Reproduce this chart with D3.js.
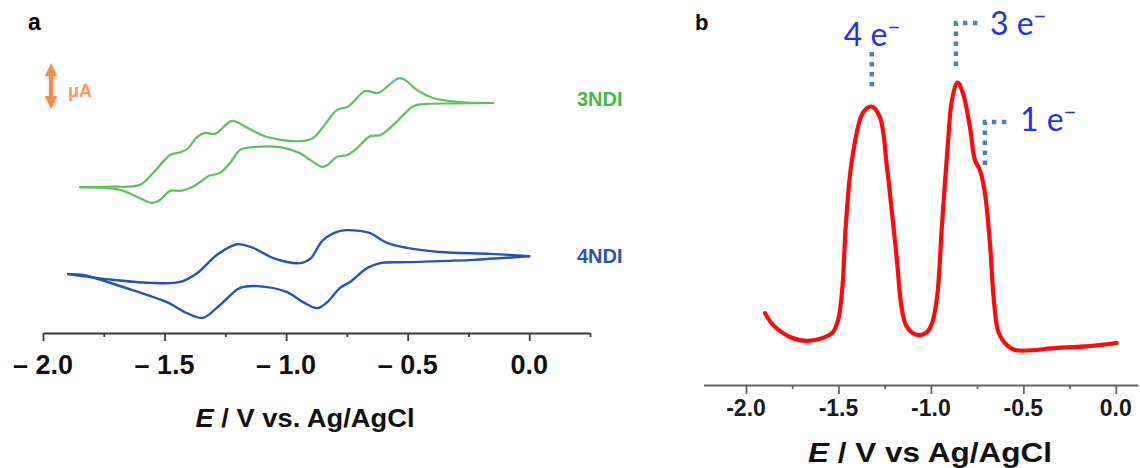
<!DOCTYPE html>
<html>
<head>
<meta charset="utf-8">
<script src="https://cdn.jsdelivr.net/npm/d3@7"></script>
<style>
  html, body { margin: 0; padding: 0; background: #fff; }
  svg { display: block; }
</style>
</head>
<body>
<svg id="fig" width="1140" height="468"></svg>
<script>
// ---------- Panel a: cyclic voltammograms (E in V, current in µA, curves stacked) ----------
const ndi3Forward = [
  [-1.848, 3.17], [-1.72, 3.18], [-1.601, 3.22], [-1.547, 3.48], [-1.477, 3.87],
  [-1.436, 3.93], [-1.407, 4.00], [-1.366, 4.26], [-1.333, 4.35], [-1.292, 4.33],
  [-1.222, 4.61], [-1.160, 4.46], [-1.078, 4.26], [-0.942, 4.17], [-0.889, 4.24],
  [-0.848, 4.48], [-0.790, 4.85], [-0.749, 4.91], [-0.724, 5.02], [-0.675, 5.26],
  [-0.621, 5.22], [-0.531, 5.54], [-0.461, 5.28], [-0.395, 5.11], [-0.284, 5.02],
  [-0.148, 5.00]
];
const ndi3Reverse = [
  [-0.148, 5.00], [-0.300, 4.99], [-0.420, 4.98], [-0.477, 4.93], [-0.510, 4.78],
  [-0.560, 4.52], [-0.613, 4.30], [-0.654, 4.28], [-0.708, 4.02], [-0.749, 3.87],
  [-0.790, 3.83], [-0.831, 3.65], [-0.852, 3.61], [-0.889, 3.72], [-0.942, 3.91],
  [-1.025, 4.04], [-1.136, 4.04], [-1.189, 3.98], [-1.230, 3.70], [-1.272, 3.48],
  [-1.321, 3.41], [-1.354, 3.28], [-1.395, 3.15], [-1.436, 3.09], [-1.477, 3.09],
  [-1.519, 2.89], [-1.551, 2.83], [-1.601, 2.93], [-1.683, 3.11], [-1.848, 3.17]
];
const ndi4Forward = [
  [-1.897, 1.28], [-1.737, 1.17], [-1.560, 1.09], [-1.436, 1.11], [-1.366, 1.30],
  [-1.284, 1.70], [-1.202, 1.93], [-1.136, 1.85], [-1.053, 1.63], [-0.942, 1.52],
  [-0.901, 1.61], [-0.848, 2.02], [-0.778, 2.22], [-0.695, 2.22], [-0.654, 2.17],
  [-0.584, 1.96], [-0.502, 1.85], [-0.366, 1.76], [-0.160, 1.72], [0.0, 1.67]
];
const ndi4Reverse = [
  [0.0, 1.67], [-0.230, 1.59], [-0.502, 1.54], [-0.613, 1.52], [-0.667, 1.41],
  [-0.737, 1.11], [-0.778, 0.98], [-0.831, 0.67], [-0.872, 0.54], [-0.930, 0.67],
  [-0.996, 0.89], [-1.119, 1.02], [-1.189, 0.98], [-1.272, 0.61], [-1.342, 0.33],
  [-1.407, 0.43], [-1.490, 0.67], [-1.671, 1.00], [-1.835, 1.26], [-1.897, 1.28]
];
const seriesNamesA = ["3NDI", "4NDI"];
const majorTicksA = [-2.0, -1.5, -1.0, -0.5, 0.0];
const minorTicksA = [-1.75, -1.25, -0.75, -0.25, 0.25];
const tickLabelsA = ["\u2013 2.0", "\u2013 1.5", "\u2013 1.0", "\u2013 0.5", "0.0"];

// ---------- Panel b: differential pulse voltammogram (normalised current) ----------
const dpvTrace = [
  [-1.897, 0.238], [-1.854, 0.199], [-1.762, 0.159], [-1.670, 0.146], [-1.584, 0.156],
  [-1.530, 0.175], [-1.500, 0.220], [-1.478, 0.330], [-1.461, 0.523], [-1.427, 0.745],
  [-1.368, 0.901], [-1.321, 0.922], [-1.276, 0.887], [-1.238, 0.722], [-1.222, 0.636],
  [-1.184, 0.414], [-1.160, 0.262], [-1.135, 0.198], [-1.100, 0.172], [-1.060, 0.165],
  [-1.020, 0.176], [-0.990, 0.212], [-0.965, 0.300], [-0.941, 0.523], [-0.908, 0.801],
  [-0.886, 0.944], [-0.856, 1.001], [-0.827, 0.967], [-0.789, 0.854], [-0.762, 0.745],
  [-0.735, 0.712], [-0.708, 0.636], [-0.681, 0.470], [-0.658, 0.270], [-0.635, 0.175],
  [-0.600, 0.139], [-0.546, 0.116], [-0.319, 0.123], [-0.141, 0.129], [0.005, 0.139]
];
const electronPeaksE = [-1.32, -0.865, -0.708];
const electronCounts = ["4", "3", "1"];
const majorTicksB = [-2.0, -1.5, -1.0, -0.5, 0.0];
const minorTicksB = [-1.75, -1.25, -0.75, -0.25];
const tickLabelsB = ["-2.0", "-1.5", "-1.0", "-0.5", "0.0"];

// ---------- drawing ----------
const svg = d3.select("#fig");
const SANS = "'Liberation Sans', Arial, Helvetica, sans-serif";

// scales
const xA = d3.scaleLinear().domain([-2.0, 0.25]).range([43, 590]);
const yA = d3.scaleLinear().domain([0, 6]).range([333, 57]);
const xB = d3.scaleLinear().domain([-2.23, 0.12]).range([703.5, 1138]);
const yB = d3.scaleLinear().domain([0, 1]).range([385, 83]);

const lineA = d3.line().x(d => xA(d[0])).y(d => yA(d[1])).curve(d3.curveCatmullRom.alpha(0.5));
const lineB = d3.line().x(d => xB(d[0])).y(d => yB(d[1])).curve(d3.curveCatmullRom.alpha(0.5));

// panel letters
svg.append("text").attr("x", 28).attr("y", 30).text("a")
  .attr("font-family", SANS).attr("font-weight", "bold").attr("font-size", 23).attr("fill", "#000");
svg.append("text").attr("x", 695).attr("y", 30).text("b")
  .attr("font-family", SANS).attr("font-weight", "bold").attr("font-size", 22).attr("fill", "#000");

// --- panel a axis
const gA = svg.append("g").attr("transform", "translate(0,333)");
gA.append("g").attr("class", "minor")
  .call(d3.axisBottom(xA).tickValues(minorTicksA).tickSize(4).tickSizeOuter(0).tickFormat(""));
gA.append("g").attr("class", "major")
  .call(d3.axisBottom(xA).tickValues(majorTicksA).tickSize(8).tickSizeOuter(0).tickFormat(""));
gA.select("g.major path.domain").remove();
gA.selectAll("path.domain").attr("stroke", "#3a3a3a").attr("stroke-width", 1.8);
gA.selectAll(".tick line").attr("stroke", "#3a3a3a").attr("stroke-width", 1.8);

svg.append("g").selectAll("text").data(majorTicksA).join("text")
  .attr("x", d => xA(d)).attr("y", 374)
  .attr("text-anchor", "middle")
  .attr("font-family", SANS).attr("font-weight", "bold").attr("font-size", 27)
  .attr("fill", "#111")
  .text((d, i) => tickLabelsA[i]);

const titleA = svg.append("text").attr("x", 305).attr("y", 427).attr("text-anchor", "middle")
  .attr("font-family", SANS).attr("font-weight", "bold").attr("font-size", 26).attr("fill", "#111")
  .attr("textLength", 219).attr("lengthAdjust", "spacingAndGlyphs");
titleA.append("tspan").attr("font-style", "italic").text("E");
titleA.append("tspan").text(" / V vs. Ag/AgCl");

// --- panel a curves
const curvesA = [
  { name: seriesNamesA[0], parts: [ndi3Forward, ndi3Reverse], color: "#5dc25d", width: 2.2 },
  { name: seriesNamesA[1], parts: [ndi4Forward, ndi4Reverse], color: "#2554b5", width: 2.4 }
];
curvesA.forEach(c => {
  c.parts.forEach(p => {
    svg.append("path").attr("d", lineA(p)).attr("fill", "none")
      .attr("stroke", c.color).attr("stroke-width", c.width)
      .attr("stroke-linecap", "round").attr("stroke-linejoin", "round");
  });
});

// series labels
svg.append("text").attr("x", 577).attr("y", 106).text(seriesNamesA[0])
  .attr("font-family", SANS).attr("font-weight", "bold").attr("font-size", 20).attr("fill", "#47b847");
svg.append("text").attr("x", 577).attr("y", 263).text(seriesNamesA[1])
  .attr("font-family", SANS).attr("font-weight", "bold").attr("font-size", 20).attr("fill", "#2a55ad");

// current scale bar (double arrow) with soft shadow
const defs = svg.append("defs");
const shadow = defs.append("filter").attr("id", "soft").attr("x", "-50%").attr("y", "-50%")
  .attr("width", "200%").attr("height", "200%");
shadow.append("feDropShadow").attr("dx", 0.5).attr("dy", 1.5).attr("stdDeviation", 1.5)
  .attr("flood-color", "#000").attr("flood-opacity", 0.25);
const arrowX = 51, arrowTop = 63, arrowBot = 109, headL = 13, headW = 6, shaftW = 2;
const arrowPts = [
  [arrowX, arrowTop], [arrowX + headW, arrowTop + headL], [arrowX + shaftW, arrowTop + headL],
  [arrowX + shaftW, arrowBot - headL], [arrowX + headW, arrowBot - headL], [arrowX, arrowBot],
  [arrowX - headW, arrowBot - headL], [arrowX - shaftW, arrowBot - headL],
  [arrowX - shaftW, arrowTop + headL], [arrowX - headW, arrowTop + headL]
];
svg.append("path").attr("d", "M" + arrowPts.map(p => p.join(",")).join("L") + "Z")
  .attr("fill", "#f58b4c").attr("filter", "url(#soft)");
svg.append("text").attr("x", 68).attr("y", 97).text("\u03bcA")
  .attr("font-family", SANS).attr("font-weight", "bold").attr("font-size", 18).attr("fill", "#f7965c");

// --- panel b axis
const gB = svg.append("g").attr("transform", "translate(0,385)");
gB.append("g").attr("class", "minor")
  .call(d3.axisBottom(xB).tickValues(minorTicksB).tickSize(4).tickSizeOuter(0).tickFormat(""));
gB.append("g").attr("class", "major")
  .call(d3.axisBottom(xB).tickValues(majorTicksB).tickSize(9).tickSizeOuter(0).tickFormat(""));
gB.select("g.major path.domain").remove();
gB.selectAll("path.domain").attr("stroke", "#666").attr("stroke-width", 2);
gB.selectAll(".tick line").attr("stroke", "#666").attr("stroke-width", 1.8);

svg.append("g").selectAll("text").data(majorTicksB).join("text")
  .attr("x", d => xB(d)).attr("y", 416)
  .attr("text-anchor", "middle")
  .attr("font-family", SANS).attr("font-weight", "bold").attr("font-size", 23)
  .attr("fill", "#1a1a1a")
  .text((d, i) => tickLabelsB[i]);

const titleB = svg.append("text").attr("x", 930).attr("y", 462).attr("text-anchor", "middle")
  .attr("font-family", SANS).attr("font-weight", "bold").attr("font-size", 28).attr("fill", "#111")
  .attr("textLength", 244).attr("lengthAdjust", "spacingAndGlyphs");
titleB.append("tspan").attr("font-style", "italic").text("E");
titleB.append("tspan").text(" / V vs Ag/AgCl");

// --- panel b trace
svg.append("path").attr("d", lineB(dpvTrace)).attr("fill", "none")
  .attr("stroke", "#ff0a0a").attr("stroke-width", 4.2)
  .attr("stroke-linecap", "round").attr("stroke-linejoin", "round");

// --- electron-count annotations (dotted leaders + labels)
const DOT = "#4f7fbd";
const BLUE = "#2630e8";
const LABEL_FONT = "Lato, 'Open Sans', sans-serif";
function dotted(pts) {
  svg.append("path").attr("d", d3.line()(pts)).attr("fill", "none")
    .attr("stroke", DOT).attr("stroke-width", 4.5).attr("stroke-dasharray", "4.5 5.5");
}
function eLabel(x, y, count) {
  const t = svg.append("text").attr("x", x).attr("y", y)
    .attr("font-family", LABEL_FONT).attr("font-size", 32).attr("fill", BLUE);
  t.append("tspan").text(count + " e");
  t.append("tspan").attr("dy", -11).attr("font-size", 22).text("\u2212");
}
// 4 e-: vertical leader above the first peak
const x4 = xB(electronPeaksE[0]);
dotted([[x4, 52], [x4, 90]]);
eLabel(x4 - 28, 46, electronCounts[0]);
// 3 e-: elbow leader above the second peak
const x3 = xB(electronPeaksE[1]);
dotted([[x3, 66], [x3, 23], [x3 + 26, 23]]);
eLabel(x3 + 34, 35, electronCounts[1]);
// 1 e-: elbow leader at the shoulder
const x1 = xB(electronPeaksE[2]);
dotted([[x1, 165], [x1, 122], [x1 + 26, 122]]);
eLabel(x1 + 35, 131, electronCounts[2]);
</script>
</body>
</html>
